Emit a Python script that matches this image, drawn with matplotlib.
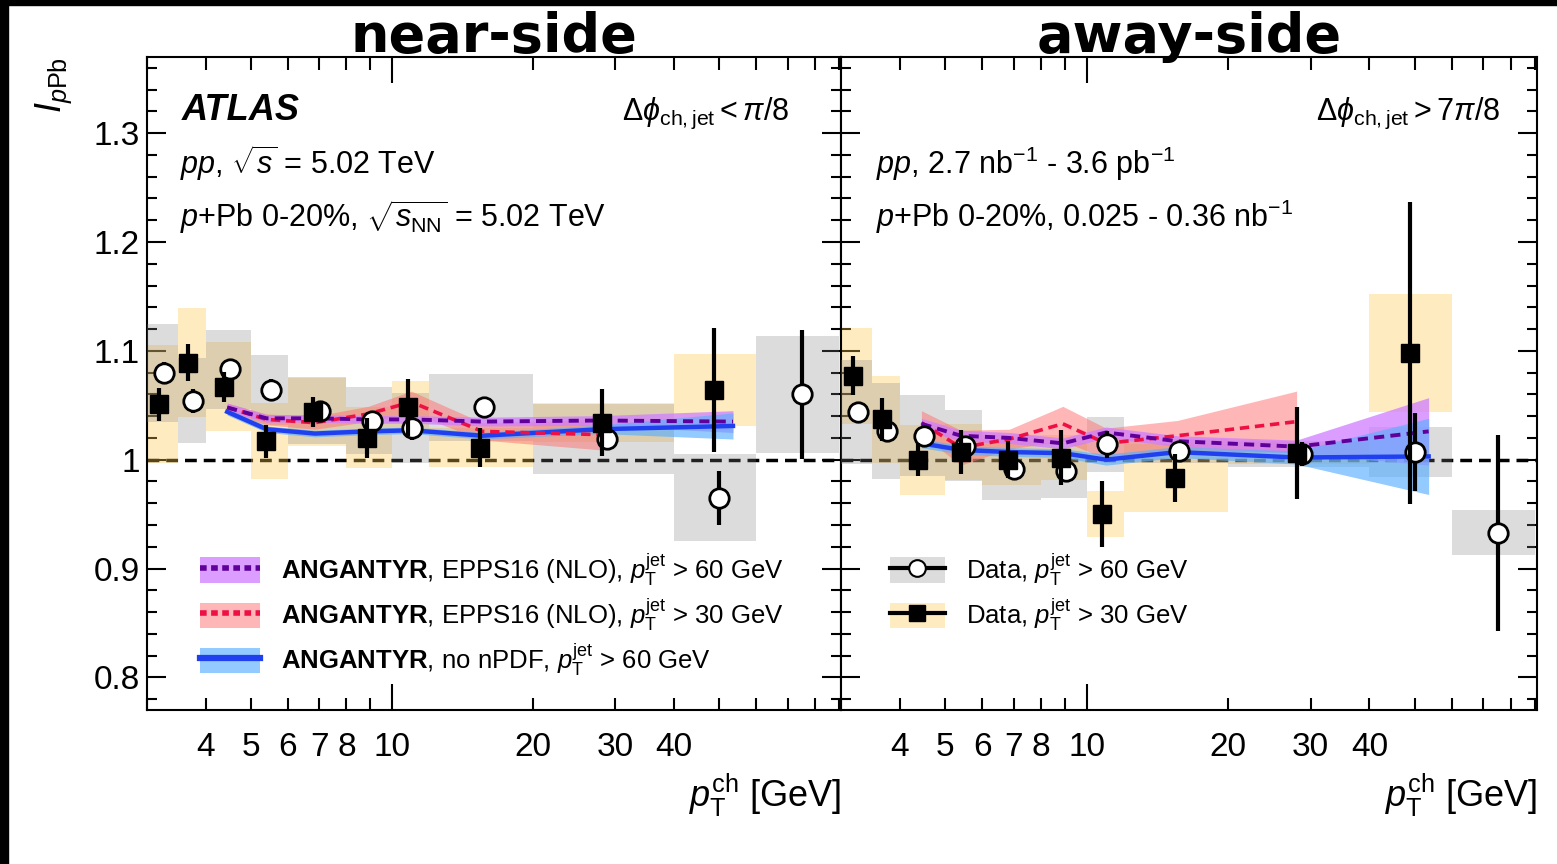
import numpy as np
import matplotlib.pyplot as plt
from matplotlib.patches import Patch, Rectangle
from matplotlib.lines import Line2D
from matplotlib.ticker import FixedLocator, FuncFormatter, MultipleLocator

plt.rcParams['font.family'] = ['Liberation Sans', 'DejaVu Sans']
plt.rcParams['mathtext.fontset'] = 'custom'
plt.rcParams['mathtext.rm'] = 'Liberation Sans'
plt.rcParams['mathtext.it'] = 'Liberation Sans:italic'
plt.rcParams['mathtext.bf'] = 'Liberation Sans:bold'

# pT^ch bin edges [GeV] and marker positions of the two jet selections
bin_edges = [3, 3.5, 4, 5, 6, 8, 10, 12, 20, 40, 60, 90]
x_pt30 = [3.18, 3.67, 4.38, 5.39, 6.79, 8.83, 10.8, 15.4, 28.1, 48.8]
x_pt60 = [3.26, 3.76, 4.51, 5.52, 7.01, 9.05, 11.05, 15.7, 28.8, 50.0, 75.1]

# near-side data: value, stat. error, syst. error
near_i30 = [1.051, 1.089, 1.067, 1.017, 1.044, 1.020, 1.048, 1.011, 1.034, 1.064]
near_stat30 = [0.015, 0.017, 0.014, 0.015, 0.014, 0.018, 0.026, 0.018, 0.031, 0.057]
near_sys30 = [0.054, 0.050, 0.041, 0.035, 0.031, 0.028, 0.024, 0.018, 0.018, 0.033]
near_i60 = [1.080, 1.054, 1.083, 1.064, 1.045, 1.036, 1.029, 1.048, 1.019, 0.965, 1.060]
near_stat60 = [0.010, 0.011, 0.009, 0.010, 0.007, 0.009, 0.011, 0.006, 0.009, 0.025, 0.059]
near_sys60 = [0.045, 0.039, 0.036, 0.032, 0.031, 0.031, 0.032, 0.031, 0.032, 0.040, 0.054]

# away-side data
away_i30 = [1.077, 1.037, 1.000, 1.007, 1.000, 1.002, 0.950, 0.983, 1.006, 1.098]
away_stat30 = [0.018, 0.020, 0.015, 0.020, 0.017, 0.025, 0.030, 0.022, 0.042, 0.139]
away_sys30 = [0.044, 0.040, 0.032, 0.026, 0.023, 0.021, 0.021, 0.031, 0.010, 0.054]
away_i60 = [1.044, 1.026, 1.022, 1.013, 0.991, 0.990, 1.014, 1.008, 1.005, 1.007, 0.933]
away_stat60 = [0.009, 0.010, 0.007, 0.007, 0.007, 0.009, 0.012, 0.007, 0.011, 0.036, 0.090]
away_sys60 = [0.048, 0.044, 0.037, 0.033, 0.028, 0.025, 0.025, 0.011, 0.012, 0.023, 0.021]

# ANGANTYR predictions
th_x = [4.45, 5.4, 6.85, 8.9, 11.0, 15.6, 28.0, 53.5]
near_epps60 = [1.048, 1.038, 1.038, 1.037, 1.037, 1.035, 1.036, 1.035]
near_epps60_err = [0.004, 0.0035, 0.0035, 0.0035, 0.0035, 0.004, 0.0045, 0.010]
near_epps30 = [1.048, 1.037, 1.034, 1.042, 1.053, 1.026, 1.023]
near_epps30_err = [0.004, 0.005, 0.006, 0.007, 0.010, 0.008, 0.014]
near_nonpdf = [1.044, 1.028, 1.024, 1.026, 1.027, 1.022, 1.028, 1.031]
near_nonpdf_err = [0.003, 0.003, 0.003, 0.003, 0.003, 0.003, 0.004, 0.012]

away_epps60 = [1.033, 1.022, 1.020, 1.015, 1.025, 1.017, 1.012, 1.026]
away_epps60_err = [0.005, 0.005, 0.005, 0.005, 0.005, 0.005, 0.006, 0.031]
away_epps30 = [1.034, 1.011, 1.019, 1.033, 1.015, 1.022, 1.035]
away_epps30_err = [0.011, 0.016, 0.009, 0.016, 0.014, 0.014, 0.028]
away_nonpdf = [1.015, 1.009, 1.007, 1.006, 1.000, 1.007, 1.002, 1.003]
away_nonpdf_err = [0.004, 0.004, 0.004, 0.004, 0.005, 0.005, 0.006, 0.035]

leg_theory = [r"$\mathbf{ANGANTYR}$, EPPS16 (NLO), $p_{\mathrm{T}}^{\mathrm{jet}}$ > 60 GeV",
              r"$\mathbf{ANGANTYR}$, EPPS16 (NLO), $p_{\mathrm{T}}^{\mathrm{jet}}$ > 30 GeV",
              r"$\mathbf{ANGANTYR}$, no nPDF, $p_{\mathrm{T}}^{\mathrm{jet}}$ > 60 GeV"]
leg_data = [r"Data, $p_{\mathrm{T}}^{\mathrm{jet}}$ > 60 GeV",
            r"Data, $p_{\mathrm{T}}^{\mathrm{jet}}$ > 30 GeV"]

yellow = (1.0, 0.78, 0.30)
gray = (0.5, 0.5, 0.5)
purple_band, purple_line = '#cf7dff', '#5e0099'
red_band, red_line = '#ff6f6f', '#ee1045'
blue_band, blue_line = '#5aaeff', '#2040f0'
dash = (0, (2.6, 1.6))


def draw_panel(ax, i30, st30, sy30, i60, st60, sy60, th60, th60e, th30, th30e, th0, th0e):
    ax.axhline(1.0, color='black', lw=2.5, ls=(0, (3.4, 2.0)), zorder=1)

    lo = np.array(bin_edges[:-1])
    hi = np.array(bin_edges[1:])
    i30, sy30 = np.array(i30), np.array(sy30)
    i60, sy60 = np.array(i60), np.array(sy60)
    n30, n60 = len(i30), len(i60)
    ax.bar(lo[:n30], 2 * sy30, width=hi[:n30] - lo[:n30], bottom=i30 - sy30,
           align='edge', color=yellow, alpha=0.35, lw=0, zorder=2)
    ax.bar(lo[:n60], 2 * sy60, width=hi[:n60] - lo[:n60], bottom=i60 - sy60,
           align='edge', color=gray, alpha=0.27, lw=0, zorder=3)

    tx = np.array(th_x)
    th60, th60e = np.array(th60), np.array(th60e)
    th30, th30e = np.array(th30), np.array(th30e)
    th0, th0e = np.array(th0), np.array(th0e)
    n30t = len(th30)
    ax.fill_between(tx[:n30t], th30 - th30e, th30 + th30e, color=red_band, alpha=0.5, lw=0, zorder=4)
    ax.fill_between(tx, th60 - th60e, th60 + th60e, color=purple_band, alpha=0.75, lw=0, zorder=5)
    ax.fill_between(tx, th0 - th0e, th0 + th0e, color=blue_band, alpha=0.65, lw=0, zorder=6)
    ax.plot(tx, th0, color=blue_line, lw=3.2, zorder=7)
    ax.plot(tx[:n30t], th30, color=red_line, lw=2.6, ls=dash, zorder=8)
    ax.plot(tx, th60, color=purple_line, lw=2.8, ls=dash, zorder=8)

    ax.errorbar(x_pt60[:n60], i60, yerr=st60, fmt='o', ms=14, mfc='white', mec='black',
                mew=2.0, ecolor='black', elinewidth=3, capsize=0, zorder=10)
    ax.errorbar(x_pt30[:n30], i30, yerr=st30, fmt='s', ms=12.5, color='black',
                elinewidth=3, capsize=0, zorder=11)


W, H = 1557, 864
fig = plt.figure(figsize=(W / 100, H / 100), dpi=100)
ax1 = fig.add_axes([147 / W, 1 - 710 / H, 694 / W, 653 / H])
ax2 = fig.add_axes([841 / W, 1 - 710 / H, 696 / W, 653 / H], sharey=ax1)

# black frame strips on the left and top edge
fig.patches.append(Rectangle((0, 0), 8 / W, 1, transform=fig.transFigure, color='black', zorder=0))
fig.patches.append(Rectangle((0, 1 - 5 / H), 1, 5 / H, transform=fig.transFigure, color='black', zorder=0))

draw_panel(ax1, near_i30, near_stat30, near_sys30, near_i60, near_stat60, near_sys60,
           near_epps60, near_epps60_err, near_epps30, near_epps30_err, near_nonpdf, near_nonpdf_err)
draw_panel(ax2, away_i30, away_stat30, away_sys30, away_i60, away_stat60, away_sys60,
           away_epps60, away_epps60_err, away_epps30, away_epps30_err, away_nonpdf, away_nonpdf_err)

minor_x = [3, 4, 5, 6, 7, 8, 9, 20, 30, 40, 50, 60, 70, 80, 90]
labelled_x = [4, 5, 6, 7, 8, 20, 30, 40]

for ax in (ax1, ax2):
    ax.set_xscale('log')
    ax.set_xlim(3, 91)
    ax.set_ylim(0.77, 1.37)
    ax.xaxis.set_major_locator(FixedLocator([10]))
    ax.xaxis.set_major_formatter(FuncFormatter(lambda v, p: '%g' % v))
    ax.xaxis.set_minor_locator(FixedLocator(minor_x))
    ax.xaxis.set_minor_formatter(FuncFormatter(lambda v, p: '%g' % v if round(v) in labelled_x else ''))
    ax.yaxis.set_major_locator(MultipleLocator(0.1))
    ax.yaxis.set_minor_locator(MultipleLocator(0.02))
    ax.yaxis.set_major_formatter(FuncFormatter(lambda v, p: '%g' % round(v, 2)))
    ax.tick_params(which='both', direction='in', top=True, right=True, width=1.5, labelsize=24)
    ax.tick_params(axis='x', which='major', length=19, pad=16)
    ax.tick_params(axis='x', which='minor', length=9, pad=16)
    ax.tick_params(axis='y', which='major', length=14, pad=5)
    ax.tick_params(axis='y', which='minor', length=7)
    for s in ax.spines.values():
        s.set_linewidth(1.5)
    ax.set_xlabel(r"$p_{\mathrm{T}}^{\mathrm{ch}}$ [GeV]", fontsize=26, loc='right', labelpad=6)

ax2.tick_params(axis='y', which='both', labelleft=False)
ax1.set_ylabel(r"$I_{p\mathrm{Pb}}$", fontsize=26, loc='top', labelpad=14)

ax1.text(0.5, 1 + 5 / 653, 'near-side', transform=ax1.transAxes, ha='center', va='baseline',
         fontsize=39, fontweight='bold', family='DejaVu Sans')
ax2.text(0.5, 1 + 5 / 653, 'away-side', transform=ax2.transAxes, ha='center', va='baseline',
         fontsize=39, fontweight='bold', family='DejaVu Sans')

ax1.text(0.05, 0.9035, 'ATLAS', transform=ax1.transAxes, fontsize=26, fontweight='bold',
         fontstyle='italic', va='baseline')
ax1.text(0.926, 0.9035, r"$\Delta\phi_{\mathrm{ch,jet}} < \pi/8$", transform=ax1.transAxes,
         fontsize=22, ha='right', va='baseline')
ax1.text(0.048, 0.8208, r"$pp$, $\sqrt{s}$ = 5.02 TeV", transform=ax1.transAxes,
         fontsize=22, va='baseline')
ax1.text(0.048, 0.7397, r"$p$+Pb 0-20%, $\sqrt{s_{\mathrm{NN}}}$ = 5.02 TeV", transform=ax1.transAxes,
         fontsize=22, va='baseline')
ax2.text(0.947, 0.9035, r"$\Delta\phi_{\mathrm{ch,jet}} > 7\pi/8$", transform=ax2.transAxes,
         fontsize=22, ha='right', va='baseline')
ax2.text(0.05, 0.8208, r"$pp$, 2.7 nb$^{-1}$ - 3.6 pb$^{-1}$", transform=ax2.transAxes,
         fontsize=22, va='baseline')
ax2.text(0.05, 0.7397, r"$p$+Pb 0-20%, 0.025 - 0.36 nb$^{-1}$", transform=ax2.transAxes,
         fontsize=22, va='baseline')

theory_handles = [
    (Patch(facecolor=purple_band, alpha=0.75, lw=0), Line2D([], [], color=purple_line, lw=4, ls=(0, (1.2, 0.8)))),
    (Patch(facecolor=red_band, alpha=0.5, lw=0), Line2D([], [], color=red_line, lw=4, ls=(0, (1.2, 0.8)))),
    (Patch(facecolor=blue_band, alpha=0.65, lw=0), Line2D([], [], color=blue_line, lw=4.5)),
]
ax1.legend(theory_handles, leg_theory, loc='upper left', bbox_to_anchor=(0.076, 0.243),
           frameon=False, fontsize=18.5, borderpad=0, borderaxespad=0, handlelength=2.35,
           handleheight=1.15, handletextpad=0.8, labelspacing=0.33)

data_handles = [
    (Patch(facecolor=gray, alpha=0.27, lw=0),
     Line2D([], [], color='black', lw=3, marker='o', ms=12, mfc='white', mew=1.5)),
    (Patch(facecolor=yellow, alpha=0.35, lw=0),
     Line2D([], [], color='black', lw=3, marker='s', ms=12)),
]
ax2.legend(data_handles, leg_data, loc='upper left', bbox_to_anchor=(0.07, 0.243),
           frameon=False, fontsize=18.5, borderpad=0, borderaxespad=0, handlelength=2.15,
           handleheight=1.15, handletextpad=0.8, labelspacing=0.33)

fig.savefig('out.png', dpi=100)
